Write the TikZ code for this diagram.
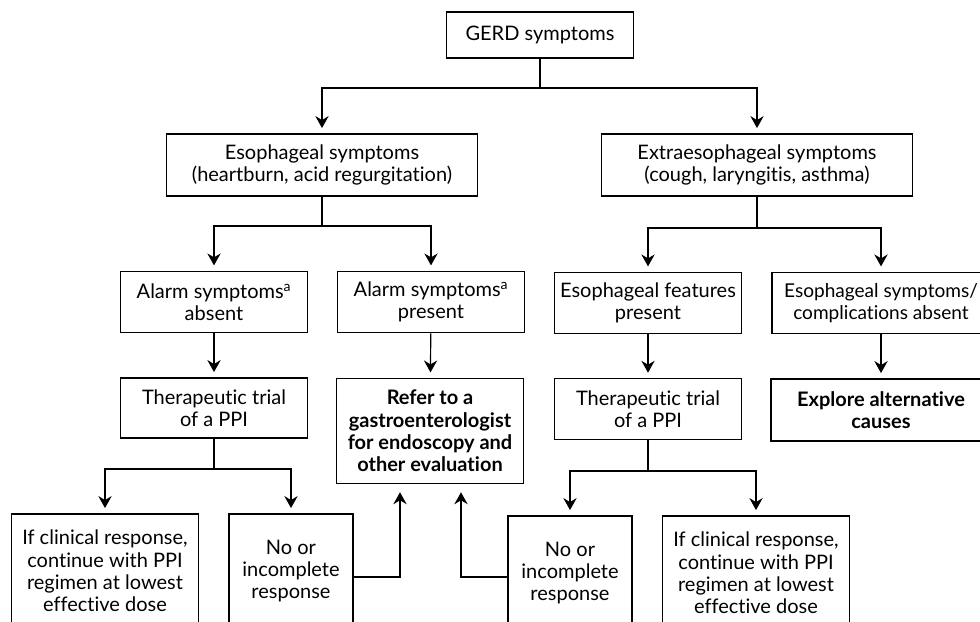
\documentclass[tikz,border=0pt]{standalone}
\usepackage{fontspec}
\setmainfont{Lato}[Ligatures=NoCommon]
\usepackage{tikz}
\usetikzlibrary{arrows.meta}
\usetikzlibrary{calc}
\tikzset{
  box/.style={draw, line width=0.9pt, align=center, inner sep=2pt,
    font=\fontsize{15}{16.8}\selectfont},
  boldbox/.style={box, font=\fontsize{15}{16.8}\selectfont\bfseries},
  flow/.style={line width=0.9pt, -{Stealth[length=9pt,width=10pt,inset=3pt]}, shorten >=4pt},
  link/.style={line width=0.9pt}
}

\begin{document}
\begin{tikzpicture}[x=0.75pt, y=-0.75pt]
\useasboundingbox (0,0) rectangle (980,621);
\clip (0,0) rectangle (980,621);
% top
\node[box, minimum width=140pt, minimum height=34.5pt] (gerd) at (540,35) {GERD symptoms};
\node[box, minimum width=233pt, minimum height=46.5pt] (eso) at (322,165)
  {Esophageal symptoms\\(heartburn, acid regurgitation)};
\node[box, minimum width=233pt, minimum height=46.5pt] (extra) at (757,165)
  {Extraesophageal symptoms\\(cough, laryngitis, asthma)};
% third row
\node[box, minimum width=140pt, minimum height=46pt] (absent) at (214,302)
  {Alarm symptoms\textsuperscript{a}\\absent};
\node[box, minimum width=140pt, minimum height=46pt] (present) at (431,302)
  {Alarm symptoms\textsuperscript{a}\\present};
\node[box, minimum width=140pt, minimum height=46pt] (feat) at (648,303)
  {Esophageal features\\present};
\node[box, minimum width=163.5pt, minimum height=46pt, font=\fontsize{14.3}{16.8}\selectfont] (compl) at (881,303)
  {Esophageal symptoms/\\complications absent};
% fourth row
\node[box, minimum width=140pt, minimum height=45pt] (trialA) at (214,408)
  {Therapeutic trial\\of a PPI};
\node[boldbox, minimum width=140pt, minimum height=79pt] (refer) at (430,431)
  {Refer to a\\gastroenterologist\\for endoscopy and\\other evaluation};
\node[box, minimum width=140pt, minimum height=45.5pt] (trialB) at (648,409)
  {Therapeutic trial\\of a PPI};
\node[boldbox, minimum width=165pt, minimum height=46.5pt] (explore) at (881,410)
  {Explore alternative\\causes};
% bottom row
\node[box, minimum width=140pt, minimum height=85.5pt] (respA) at (105,571)
  {If clinical response,\\continue with PPI\\regimen at lowest\\effective dose};
\node[box, minimum width=93pt, minimum height=85.5pt] (noneA) at (291,571)
  {No or\\incomplete\\response};
\node[box, minimum width=93pt, minimum height=85.5pt] (noneB) at (570,573)
  {No or\\incomplete\\response};
\node[box, minimum width=140pt, minimum height=85.5pt] (respB) at (756,573)
  {If clinical response,\\continue with PPI\\regimen at lowest\\effective dose};

% branch points
\coordinate (j0) at (540,88);
\coordinate (j1) at (322,226);
\coordinate (j2) at (757,228);
\coordinate (j3) at (214,469);
\coordinate (j4) at (648,471);

\draw[link] (gerd.south) -- (j0);
\draw[flow] (j0) -| (eso.north);
\draw[flow] (j0) -| (extra.north);
\draw[link] (eso.south) -- (j1);
\draw[flow] (j1) -| (absent.north);
\draw[flow] (j1) -| (present.north);
\draw[link] (extra.south) -- (j2);
\draw[flow] (j2) -| (feat.north);
\draw[flow] (j2) -| (compl.north);
\draw[flow] (absent) -- (trialA);
\draw[flow] (present) -- (refer);
\draw[flow] (feat) -- (trialB);
\draw[flow] (compl) -- (explore);
\draw[link] (trialA.south) -- (j3);
\draw[flow] (j3) -| (respA.north);
\draw[flow] (j3) -| (noneA.north);
\draw[link] (trialB.south) -- (j4);
\draw[flow] (j4) -| (noneB.north);
\draw[flow] (j4) -| (respB.north);
% back to the referral
\draw[flow, shorten >=6pt] ($(noneA.east)+(0,6)$) -| ($(refer.south)+(-30,0)$);
\draw[flow, shorten >=6pt] ($(noneB.west)+(0,4)$) -| ($(refer.south)+(31,0)$);
\end{tikzpicture}
\end{document}
